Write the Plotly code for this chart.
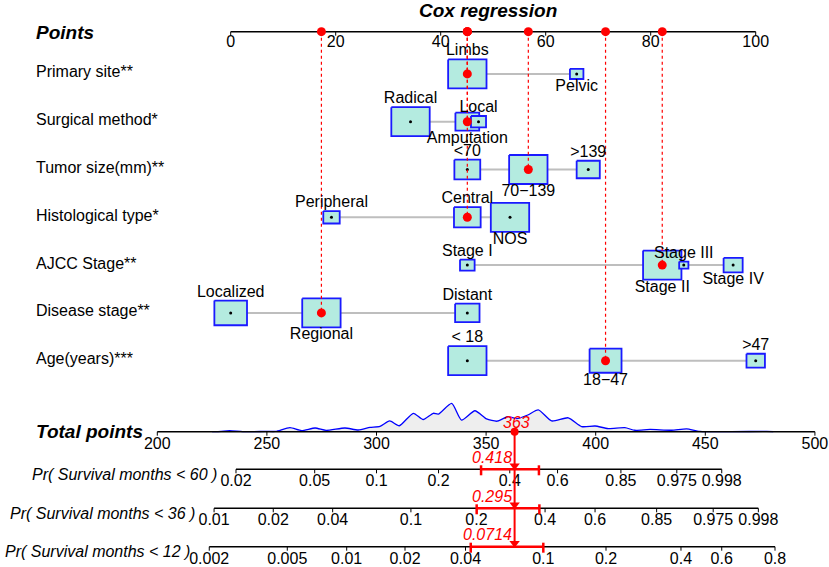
import plotly.graph_objects as go

FONT = "Liberation Sans, Arial, sans-serif"

# ---- nomogram data ----
variables = ["Primary site**", "Surgical method*", "Tumor size(mm)**", "Histological type*",
             "AJCC Stage**", "Disease stage**", "Age(years)***"]

levels = [
    ["Limbs", "Pelvic"],
    ["Radical", "Amputation", "Local"],
    ["<70", "70\u2212139", ">139"],
    ["Peripheral", "Central", "NOS"],
    ["Stage I", "Stage II", "Stage III", "Stage IV"],
    ["Localized", "Regional", "Distant"],
    ["< 18", "18\u221247", ">47"],
]

# points of each level on the 0-100 scale
level_points = [
    [45.07, 65.9],
    [34.25, 45.07, 47.2],
    [45.07, 56.69, 68.1],
    [19.2, 45.07, 53.2],
    [45.07, 82.2, 86.3, 95.7],
    [0.0, 17.28, 45.07],
    [45.07, 71.4, 100.0],
]

# share of patients in each level (%), sets the box size
level_pct = [
    [89, 11],
    [65, 25, 10],
    [25, 55, 20],
    [11, 29, 60],
    [10, 69, 4, 17],
    [34, 47, 19],
    [52, 36, 12],
]

label_side = [
    ["up", "down"],
    ["up", "down", "up"],
    ["up", "down", "up"],
    ["up", "up", "down"],
    ["up", "down", "up", "down"],
    ["up", "down", "up"],
    ["up", "down", "up"],
]

# the patient shown in red
selected = ["Limbs", "Amputation", "70\u2212139", "Central", "Stage II", "Regional", "18\u221247"]
patient_total = 363

points_ticks = [0, 20, 40, 60, 80, 100]
total_ticks = [200, 250, 300, 350, 400, 450, 500]

# density of total points in the cohort (peak = 100)
density_x = [225, 227, 233, 239, 250, 254, 260.5, 265.8, 272, 277, 285.6, 291.7, 297, 301.6,
             306, 310.4, 316.8, 321.3, 325.9, 328.2, 334.3, 338.8, 344.9, 350.2, 355, 360,
             364, 369, 373.8, 379.9, 387.5, 393.6, 399.7, 405.7, 413.3, 417.9, 424.8, 434.6,
             441.5, 447.6, 478, 481]
density_y = [0, 0, 3.5, 0, 1, 1, 14, 3.5, 13, 4.6, 13, 6, 15, 19,
             38, 21, 65, 43, 65, 62, 100, 41, 74, 45, 37, 53,
             46, 59, 77, 38, 49, 18, 20, 11, 14, 5, 8, 5,
             10, 1, 1, 0]

pr_names = ["Pr( Survival months < 60 )", "Pr( Survival months < 36 )",
            "Pr( Survival months < 12 )"]
pr_tick_labels = [
    ["0.02", "0.05", "0.1", "0.2", "0.4", "0.6", "0.85", "0.975", "0.998"],
    ["0.01", "0.02", "0.04", "0.1", "0.2", "0.4", "0.6", "0.85", "0.975", "0.998"],
    ["0.002", "0.005", "0.01", "0.02", "0.04", "0.1", "0.2", "0.4", "0.6", "0.8"],
]
# total points where each probability tick sits
pr_tick_pos = [
    [235.9, 271.8, 300.0, 328.3, 360.8, 382.6, 411.5, 437.0, 457.5],
    [225.9, 252.9, 280.0, 315.7, 345.6, 376.9, 399.7, 427.8, 453.6, 474.2],
    [223.7, 259.3, 286.4, 313.0, 340.6, 376.1, 404.7, 438.9, 457.5, 481.8],
]
pr_values = ["0.418", "0.295", "0.0714"]
pr_ci = [[347.7, 374.1], [345.7, 374.3], [343.0, 376.1]]

# ---- layout constants ----
PXY = 1 / 47.8          # one pixel in row units
BOX_W = 7.31            # full box width in points
BOX_H = 0.607           # full box height in rows
Y_POINTS = -0.883
Y_TOTAL = 7.485
Y_PR = [8.272, 9.088, 9.891]
BOX_FILL = "#b4ebe0"
BOX_LINE = "#1a1aff"
GREY = "#bebebe"
RED = "#ff0000"
FS = 16

fig = go.Figure()


def seg_trace(xs, ys, color, width, dash="solid", xaxis="x"):
    return go.Scatter(x=xs, y=ys, mode="lines", line=dict(color=color, width=width, dash=dash),
                      xaxis=xaxis, hoverinfo="skip", showlegend=False)


def text_trace(xs, ys, texts, size=FS, color="black", pos="middle center", xaxis="x"):
    return go.Scatter(x=xs, y=ys, mode="text", text=texts, textposition=pos,
                      textfont=dict(family=FONT, size=size, color=color),
                      xaxis=xaxis, hoverinfo="skip", showlegend=False)


# points axis
fig.add_trace(seg_trace([0, 100], [Y_POINTS, Y_POINTS], "black", 1.5))
tx, ty = [], []
for t in points_ticks:
    tx += [t, t, None]
    ty += [Y_POINTS, Y_POINTS + 4 * PXY, None]
fig.add_trace(seg_trace(tx, ty, "black", 1))
fig.add_trace(text_trace(points_ticks, [Y_POINTS + 11.5 * PXY] * len(points_ticks),
                         [str(t) for t in points_ticks]))

# grey lines joining the levels
for i in range(len(variables)):
    fig.add_trace(seg_trace([min(level_points[i]), max(level_points[i])], [i, i], GREY, 2))

# boxes
lab_x, lab_y, lab_t = [], [], []
dot_x, dot_y = [], []
sel_x, sel_y = [], []
for i in range(len(variables)):
    pmax = max(level_pct[i])
    for lev, p, pct, side in zip(levels[i], level_points[i], level_pct[i], label_side[i]):
        s = (pct / pmax) ** 0.5
        w, h = BOX_W * s, BOX_H * s
        fig.add_trace(go.Scatter(
            x=[p - w / 2, p + w / 2, p + w / 2, p - w / 2, p - w / 2],
            y=[i - h / 2, i - h / 2, i + h / 2, i + h / 2, i - h / 2],
            mode="lines", fill="toself", fillcolor=BOX_FILL,
            line=dict(color=BOX_LINE, width=1.8), hoverinfo="skip", showlegend=False))
        off = h / 2 + 8 * PXY
        lab_x.append(p)
        lab_y.append(i - off if side == "up" else i + off)
        lab_t.append(lev)
        dot_x.append(p)
        dot_y.append(i)
        if lev == selected[i]:
            sel_x.append(p)
            sel_y.append(i)

fig.add_trace(go.Scatter(x=dot_x, y=dot_y, mode="markers",
                         marker=dict(color="black", size=3), hoverinfo="skip", showlegend=False))

# red dotted guides from the points axis
for x, y in zip(sel_x, sel_y):
    fig.add_trace(seg_trace([x, x], [Y_POINTS, y], RED, 1.2, dash="dot"))

fig.add_trace(go.Scatter(x=sel_x + sel_x, y=sel_y + [Y_POINTS] * len(sel_x), mode="markers",
                         marker=dict(color=RED, size=9), hoverinfo="skip", showlegend=False))
fig.add_trace(text_trace(lab_x, lab_y, lab_t))

# density over the total points axis
dens_scale = 28.3 * PXY / 100
fig.add_trace(go.Scatter(x=density_x, y=[Y_TOTAL] * len(density_x), mode="lines",
                         line=dict(width=0), xaxis="x2", hoverinfo="skip", showlegend=False))
fig.add_trace(go.Scatter(x=density_x, y=[Y_TOTAL - d * dens_scale for d in density_y],
                         mode="lines", line=dict(color="#0000ff", width=1.3, shape="spline",
                                                 smoothing=0.6),
                         fill="tonexty", fillcolor="#eeeeee",
                         xaxis="x2", hoverinfo="skip", showlegend=False))

# total points axis
fig.add_trace(seg_trace([total_ticks[0], total_ticks[-1]], [Y_TOTAL, Y_TOTAL], "black", 1.5,
                        xaxis="x2"))
tx, ty = [], []
for t in total_ticks:
    tx += [t, t, None]
    ty += [Y_TOTAL, Y_TOTAL + 4 * PXY, None]
fig.add_trace(seg_trace(tx, ty, "black", 1, xaxis="x2"))
fig.add_trace(text_trace(total_ticks, [Y_TOTAL + 13.3 * PXY] * len(total_ticks),
                         [str(t) for t in total_ticks], xaxis="x2"))

# probability axes
for k in range(len(pr_names)):
    yk = Y_PR[k]
    pos = pr_tick_pos[k]
    fig.add_trace(seg_trace([pos[0], pos[-1]], [yk, yk], "black", 1.5, xaxis="x2"))
    tx, ty = [], []
    for t in pos:
        tx += [t, t, None]
        ty += [yk, yk + 4 * PXY, None]
    fig.add_trace(seg_trace(tx, ty, "black", 1, xaxis="x2"))
    fig.add_trace(text_trace(pos, [yk + 13 * PXY] * len(pos), pr_tick_labels[k], xaxis="x2"))
    # confidence bar
    lo, hi = pr_ci[k]
    fig.add_trace(seg_trace([lo, hi, None, lo, lo, None, hi, hi],
                            [yk, yk, None, yk - 4 * PXY, yk + 6 * PXY, None,
                             yk - 4 * PXY, yk + 6 * PXY], RED, 2.5, xaxis="x2"))
    fig.add_annotation(x=pos[0], y=yk, xref="x2", yref="y", text=pr_names[k],
                       showarrow=False, xanchor="right", yanchor="middle", xshift=-17, yshift=-5,
                       font=dict(family=FONT, size=FS, color="black", style="italic"))
    fig.add_annotation(x=patient_total, y=yk - 12 * PXY, xref="x2", yref="y",
                       text=pr_values[k], showarrow=False, xanchor="right", yanchor="middle",
                       xshift=-1, font=dict(family=FONT, size=FS, color=RED, style="italic"))

# patient's total points in red
fig.add_trace(seg_trace([patient_total, patient_total], [Y_TOTAL, Y_PR[-1]], RED, 2, xaxis="x2"))
fig.add_trace(go.Scatter(x=[patient_total] * 3, y=[y - 3.5 * PXY for y in Y_PR], mode="markers",
                         marker=dict(color=RED, size=9, symbol="triangle-down"), xaxis="x2",
                         hoverinfo="skip", showlegend=False))
fig.add_trace(go.Scatter(x=[patient_total], y=[Y_TOTAL], mode="markers",
                         marker=dict(color=RED, size=8), xaxis="x2",
                         hoverinfo="skip", showlegend=False))
fig.add_annotation(x=patient_total, y=Y_TOTAL - 9 * PXY, xref="x2", yref="y",
                   text=str(patient_total), showarrow=False, xshift=2,
                   font=dict(family=FONT, size=FS, color=RED, style="italic"))

# row labels and headings
for i, v in enumerate(variables):
    fig.add_annotation(x=34 / 829, y=i, xref="paper", yref="y", text=v, showarrow=False,
                       xanchor="left", yanchor="middle", yshift=2,
                       font=dict(family=FONT, size=FS, color="black"))
fig.add_annotation(x=34 / 829, y=Y_POINTS, xref="paper", yref="y", text="<b><i>Points</i></b>",
                   showarrow=False, xanchor="left", yanchor="middle", yshift=-1,
                   font=dict(family=FONT, size=19, color="black"))
fig.add_annotation(x=34 / 829, y=Y_TOTAL, xref="paper", yref="y",
                   text="<b><i>Total points</i></b>", showarrow=False, xanchor="left",
                   yanchor="middle", font=dict(family=FONT, size=19, color="black"))
fig.add_annotation(x=487.5 / 829, y=1 - 10 / 567, xref="paper", yref="paper",
                   text="<b><i>Cox regression</i></b>", showarrow=False, yanchor="middle",
                   font=dict(family=FONT, size=19, color="black"))

fig.update_layout(
    width=829, height=567, autosize=False,
    margin=dict(l=0, r=0, t=0, b=0),
    paper_bgcolor="white", plot_bgcolor="white",
    showlegend=False,
    xaxis=dict(range=[-43.94, 113.96], visible=False, fixedrange=True),
    xaxis2=dict(range=[128.24, 506.43], visible=False, overlaying="x", anchor="y",
                fixedrange=True),
    yaxis=dict(range=[10.316, -1.546], visible=False, fixedrange=True),
)

# drop the page's default body margin so the figure fills the window
fig.write_html("out.html", config={"displayModeBar": False},
               post_script="document.body.style.margin='0';")
